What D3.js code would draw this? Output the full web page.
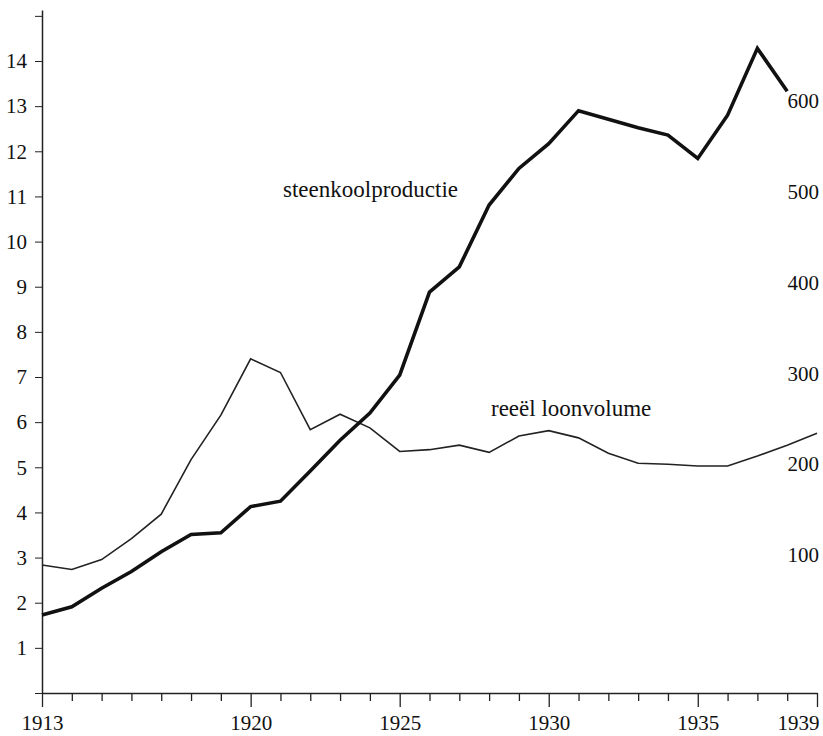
<!DOCTYPE html>
<html>
<head>
<meta charset="utf-8">
<script src="https://cdn.jsdelivr.net/npm/d3@7"></script>
<style>
    body { margin: 0; background: #fff; }
    .axis path, .axis line { stroke: #222; }
</style>
</head>
<body>
<svg id="chart" width="823" height="736"></svg>
<script>
// years on the x axis
let years = d3.range(1913, 1940);
let labelYears = [1913, 1920, 1925, 1930, 1935, 1939];

// steenkoolproductie (left axis, million tonnes) 1913-1938
let coalYears = d3.range(1913, 1939);
let coal = [1.73, 1.91, 2.32, 2.69, 3.13, 3.51, 3.55, 4.13, 4.25, 4.92,
            5.60, 6.20, 7.04, 8.88, 9.44, 10.81, 11.62, 12.17, 12.90, 12.71,
            12.52, 12.36, 11.84, 12.80, 14.28, 13.33];

// reeel loonvolume (right axis, index) 1913-1939
let wages = [89, 84, 95, 118, 145, 205, 254, 316, 301, 238,
             255, 240, 214, 216, 221, 213, 231, 237, 229, 212,
             201, 200, 198, 198, 209, 221, 234];

let leftTicks = d3.range(0, 16);
let rightTicks = [100, 200, 300, 400, 500, 600];

let serif = "'Liberation Serif', 'Times New Roman', Times, serif";

let svg = d3.select("#chart");

let xScale = d3.scaleLinear().domain([1913, 1939]).range([42, 817]);
let yLeft = d3.scaleLinear().domain([0, 15.13]).range([693, 10]);
let yRight = d3.scaleLinear().domain([100, 600]).range([555, 101]);

// left axis
let leftAxis = d3.axisLeft(yLeft)
    .tickValues(leftTicks)
    .tickSize(7)
    .tickSizeOuter(0)
    .tickPadding(8)
    .tickFormat(function (d) {
        return (d == 0 || d == 15) ? "" : d;
    });
let gLeft = svg.append("g")
    .attr("class", "axis")
    .attr("transform", "translate(" + 42 + ",0)")
    .call(leftAxis)
    .attr("font-family", null);
gLeft.selectAll("text").style("font-family", serif).style("font-size", "21px").attr("fill", "#111");
gLeft.select(".domain").attr("stroke-width", 1.5);

// bottom axis
let xAxis = d3.axisBottom(xScale)
    .tickValues(years)
    .tickSize(8)
    .tickSizeOuter(0)
    .tickFormat(function (d) {
        return labelYears.indexOf(d) >= 0 ? d : "";
    });
let gX = svg.append("g")
    .attr("class", "axis")
    .attr("transform", "translate(0," + 693 + ")")
    .call(xAxis)
    .attr("font-family", null);
gX.select(".domain").attr("stroke-width", 1.5);
gX.selectAll(".tick line").attr("y2", function (d) {
    return labelYears.indexOf(d) >= 0 ? 14 : 8;
}).attr("stroke-width", 1.3);
gX.selectAll("text")
    .attr("y", 22)
    .attr("fill", "#111")
    .style("font-family", serif)
    .style("font-size", "21px")
    .attr("text-anchor", function (d) {
        return d == 1939 ? "end" : "middle";
    })
    .attr("dx", function (d) {
        return d == 1939 ? 2 : 0;
    });

// right axis: labels only
let rightAxis = d3.axisLeft(yRight)
    .tickValues(rightTicks)
    .tickSize(0)
    .tickPadding(0);
let gRight = svg.append("g")
    .attr("class", "axis")
    .attr("transform", "translate(" + 819 + ",0)")
    .call(rightAxis)
    .attr("font-family", null);
gRight.select(".domain").remove();
gRight.selectAll("text").style("font-family", serif).style("font-size", "21px").attr("fill", "#111");

// lines
let coalLine = d3.line()
    .x(function (d, i) { return xScale(coalYears[i]); })
    .y(function (d) { return yLeft(d); });

let wageLine = d3.line()
    .x(function (d, i) { return xScale(years[i]); })
    .y(function (d) { return yRight(d); });

svg.append("path")
    .datum(wages)
    .attr("d", wageLine)
    .attr("fill", "none")
    .attr("stroke", "#222")
    .attr("stroke-width", 1.6)
    .attr("stroke-linejoin", "miter");

svg.append("path")
    .datum(coal)
    .attr("d", coalLine)
    .attr("fill", "none")
    .attr("stroke", "#111")
    .attr("stroke-width", 3.6)
    .attr("stroke-linejoin", "miter");

// series labels
svg.append("text")
    .attr("x", 283)
    .attr("y", 197)
    .style("font-family", serif)
    .style("font-size", "23px")
    .attr("fill", "#111")
    .text("steenkoolproductie");

svg.append("text")
    .attr("x", 491)
    .attr("y", 416)
    .style("font-family", serif)
    .style("font-size", "23px")
    .attr("fill", "#111")
    .text("reeël loonvolume");
</script>
</body>
</html>
